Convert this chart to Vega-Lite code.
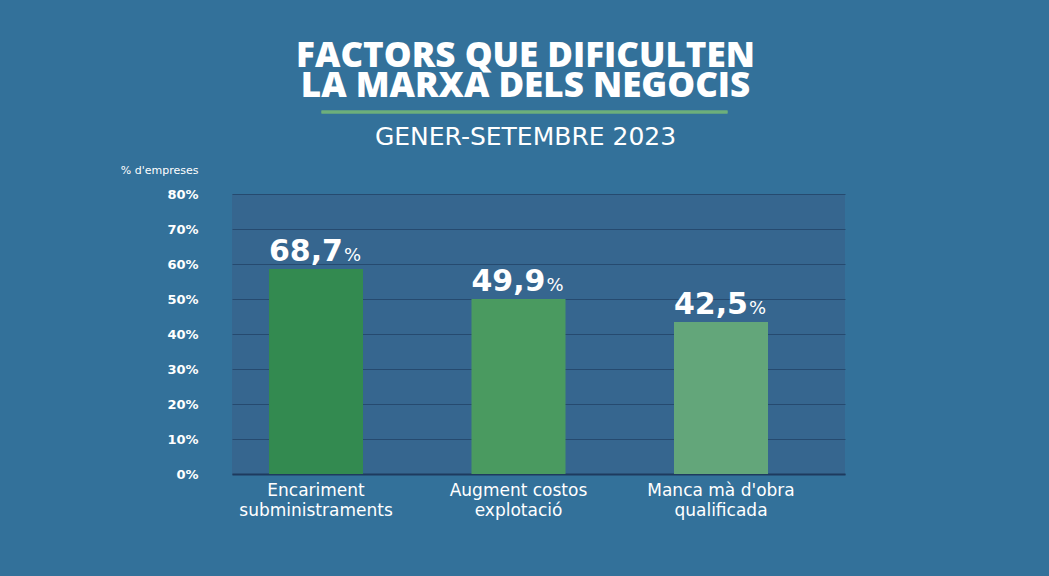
{
  "$schema": "https://vega.github.io/schema/vega-lite/v6.json",
  "width": 613,
  "height": 280,
  "autosize": {"type": "none"},
  "padding": {"left": 232, "top": 194, "right": 204, "bottom": 102},
  "background": "#33719a",
  "config": {
    "view": {"fill": "#36668f", "stroke": null},
    "font": "DejaVu Sans"
  },
  "title": {
    "text": ["FACTORS QUE DIFICULTEN", "LA MARXA DELS NEGOCIS"],
    "subtitle": "GENER-SETEMBRE 2023",
    "anchor": "middle",
    "frame": "group",
    "font": "Open Sans",
    "fontSize": 35,
    "fontWeight": 800,
    "lineHeight": 30,
    "color": "#ffffff",
    "subtitleFont": "DejaVu Sans",
    "subtitleColor": "#ffffff",
    "subtitleFontSize": 25,
    "subtitleFontWeight": "normal",
    "subtitlePadding": 21,
    "offset": -40,
    "dx": -13
  },
  "data": {
    "values": [
      {"factor": "Encariment subministraments", "valor": 68.7, "etiqueta": "68,7", "alcada": 58.6},
      {"factor": "Augment costos explotació", "valor": 49.9, "etiqueta": "49,9", "alcada": 50.0},
      {"factor": "Manca mà d'obra qualificada", "valor": 42.5, "etiqueta": "42,5", "alcada": 43.4}
    ]
  },
  "encoding": {
    "x": {
      "field": "factor",
      "type": "nominal",
      "sort": null,
      "scale": {"paddingInner": 0.5358, "paddingOuter": 0.2815, "align": 0.3246},
      "axis": {
        "title": null,
        "labelAngle": 0,
        "ticks": false,
        "domainColor": "#1e3a5e",
        "domainWidth": 2,
        "labelExpr": "[slice(datum.label, 0, lastindexof(datum.label, ' ')), slice(datum.label, lastindexof(datum.label, ' ') + 1)]",
        "labelFontSize": 17,
        "labelLineHeight": 20,
        "labelPadding": 8,
        "labelColor": "#ffffff",
        "labelFont": "DejaVu Sans",
        "labelOverlap": false
      }
    },
    "y": {
      "field": "alcada",
      "type": "quantitative",
      "scale": {"domain": [0, 80], "nice": false},
      "axis": {
        "values": [0, 10, 20, 30, 40, 50, 60, 70, 80],
        "tickCount": 10,
        "labelExpr": "datum.value + '%'",
        "labelFontWeight": "bold",
        "labelFontSize": 13,
        "labelColor": "#ffffff",
        "labelFont": "DejaVu Sans",
        "labelPadding": 34,
        "labelOverlap": false,
        "ticks": false,
        "domain": false,
        "grid": true,
        "gridColor": "#264a6f",
        "gridWidth": 1,
        "title": "% d'empreses",
        "titleAngle": 0,
        "titleX": -34,
        "titleY": -21,
        "titleAlign": "right",
        "titleBaseline": "alphabetic",
        "titleFontSize": 11,
        "titleFontWeight": "normal",
        "titleColor": "#ffffff",
        "titleFont": "DejaVu Sans"
      }
    }
  },
  "layer": [
    {
      "mark": {"type": "bar"},
      "encoding": {
        "color": {
          "field": "factor",
          "type": "nominal",
          "scale": {
            "domain": ["Encariment subministraments", "Augment costos explotació", "Manca mà d'obra qualificada"],
            "range": ["#338a50", "#4a9a60", "#63a67a"]
          },
          "legend": null
        }
      }
    },
    {
      "mark": {"type": "text", "align": "right", "baseline": "alphabetic", "dx": 27, "dy": -8, "fontSize": 30, "fontWeight": "bold", "color": "#ffffff", "font": "DejaVu Sans"},
      "encoding": {"text": {"field": "etiqueta"}}
    },
    {
      "mark": {"type": "text", "align": "left", "baseline": "alphabetic", "dx": 28, "dy": -8, "fontSize": 18, "fontWeight": "normal", "color": "#ffffff", "font": "DejaVu Sans"},
      "encoding": {"text": {"value": "%"}}
    },
    {
      "mark": {"type": "tick", "color": "#6fb07a", "thickness": 3, "size": 406, "orient": "horizontal", "xOffset": 6},
      "encoding": {
        "x": {"datum": "Augment costos explotació", "type": "nominal"},
        "y": {"datum": 103.43, "type": "quantitative"}
      }
    }
  ]
}
